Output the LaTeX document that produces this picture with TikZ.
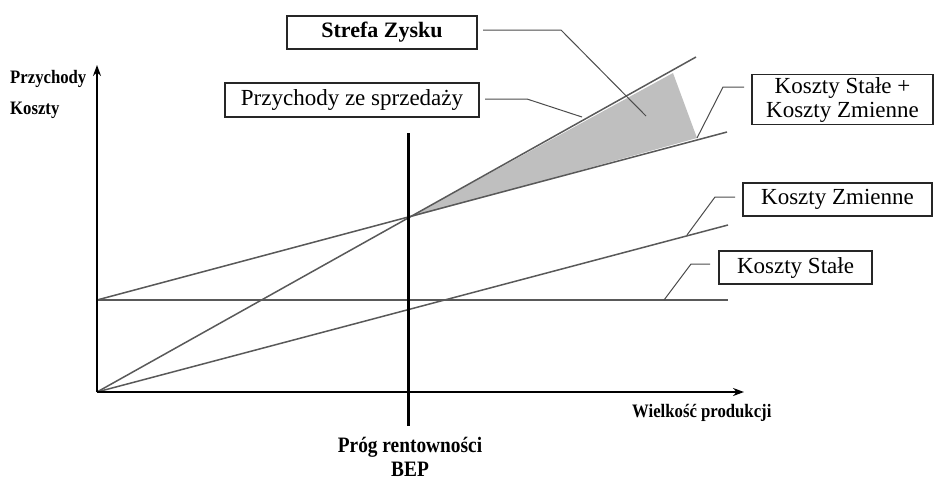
\documentclass[tikz,border=0pt]{standalone}
\usepackage{fontspec}
\setmainfont{Liberation Serif}
\newfontfamily\condserif[FakeStretch=0.88]{Liberation Serif}
\usetikzlibrary{arrows.meta}
\begin{document}
\begin{tikzpicture}[x=1pt,y=-1pt,
  lbox/.style={draw=black!85,line width=1.2pt,inner sep=0pt,align=center,font=\fontsize{23}{24}\selectfont},
  ecoline/.style={draw=black!65,line width=1.5pt},
  leader/.style={draw=black!70,line width=1pt},
  axis/.style={draw=black,line width=2.5pt,-{Stealth[length=11pt,width=8pt]}},
  axlabel/.style={font=\condserif\fontsize{19}{20}\selectfont\bfseries,anchor=west,inner sep=0pt},
  beplabel/.style={font=\condserif\fontsize{22}{24}\selectfont\bfseries,align=center,inner sep=0pt}]
\useasboundingbox (0,0) rectangle (934,483);
% key points
\coordinate (O) at (97,392);
\coordinate (FCend) at (728,300);
\coordinate (FC0) at (97,300);
\coordinate (BEPp) at (408,218);
\coordinate (REVend) at (696,57);
\coordinate (TCend) at (727,132);
\coordinate (VCend) at (728,225);
\coordinate (Gtop) at (673,73);
\coordinate (Gbot) at (697,138);
% profit zone
\fill[black!25] (BEPp) -- (Gtop) -- (Gbot) -- cycle;
% economic lines
\draw[ecoline] (FC0) -- (FCend);
\draw[ecoline] (FC0) -- (TCend);
\draw[ecoline] (O) -- (REVend);
\draw[ecoline] (O) -- (VCend);
% axes
\draw[axis] (O) -- (97,65) coordinate (Ytop);
\draw[axis] (O) -- (744,392) coordinate (Xend);
% BEP line
\coordinate (BEPtop) at (408,133);
\coordinate (BEPbot) at (408,426);
\draw[line width=3pt] (BEPtop) -- (BEPbot);
% boxes
\node[lbox,minimum width=190,minimum height=33,font=\fontsize{22}{23}\selectfont\bfseries] (sz) at (382,32.5) {Strefa Zysku};
\node[lbox,minimum width=254,minimum height=34] (pr) at (352,100) {Przychody ze sprzedaży};
\node[lbox,minimum width=181,minimum height=50] (ksz) at (842.5,99.5) {Koszty Stałe +\\Koszty Zmienne};
\node[lbox,minimum width=189,minimum height=33] (kz) at (837.5,199.5) {Koszty Zmienne};
\node[lbox,minimum width=153,minimum height=33] (ks) at (795.5,267.5) {Koszty Stałe};
% leader points
\coordinate (szA) at (483,30); \coordinate (szB) at (561,30); \coordinate (szC) at (646,116);
\coordinate (prA) at (485,99); \coordinate (prB) at (527,99); \coordinate (prC) at (582,117);
\coordinate (kszA) at (744,87); \coordinate (kszB) at (723,87);
\coordinate (kzA) at (735,197); \coordinate (kzB) at (715,197); \coordinate (kzC) at (687,235);
\coordinate (ksA) at (710,264); \coordinate (ksB) at (691,264); \coordinate (ksC) at (664,300);
\draw[leader] (szA) -- (szB) -- (szC);
\draw[leader] (prA) -- (prB) -- (prC);
\draw[leader] (kszA) -- (kszB) -- (Gbot);
\draw[leader] (kzA) -- (kzB) -- (kzC);
\draw[leader] (ksA) -- (ksB) -- (ksC);
% axis labels
\node[axlabel] (yl1) at (10,79) {Przychody};
\node[axlabel] (yl2) at (10,110) {Koszty};
\node[axlabel] (xl) at (632,413) {Wielkość produkcji};
\node[beplabel] (bep) at (410,457) {Próg rentowności\\BEP};
\end{tikzpicture}
\end{document}
